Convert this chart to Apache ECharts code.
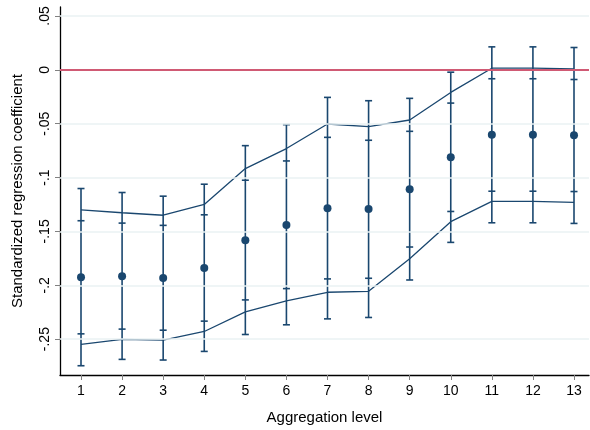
<!DOCTYPE html>
<html>
<head>
<meta charset="utf-8">
<script src="https://cdn.jsdelivr.net/npm/echarts@6/dist/echarts.min.js"></script>
<style>
  html, body { margin: 0; padding: 0; background: #ffffff; }
  #chart { width: 590px; height: 430px; }
</style>
</head>
<body>
<div id="chart"></div>
<script>
// Aggregation levels on the x axis
const levels = [1, 2, 3, 4, 5, 6, 7, 8, 9, 10, 11, 12, 13];

// Point estimates of the standardized coefficient
const estimate = [-0.1926, -0.1917, -0.1932, -0.1840, -0.1583, -0.1441, -0.1284,
                  -0.1293, -0.1108, -0.0812, -0.0602, -0.0602, -0.0608];

// Outer confidence interval (wide caps)
const outerLow  = [-0.2747, -0.2688, -0.2694, -0.2614, -0.2457, -0.2367, -0.2312,
                   -0.2299, -0.1951, -0.1602, -0.1420, -0.1420, -0.1426];
const outerHigh = [-0.1102, -0.1139, -0.1173, -0.1062, -0.0704, -0.0509, -0.0256,
                   -0.0287, -0.0265, -0.0022, 0.0213, 0.0213, 0.0207];

// Inner confidence interval (second set of caps)
const innerLow  = [-0.2451, -0.2407, -0.2417, -0.2333, -0.2136, -0.2031, -0.1941,
                   -0.1935, -0.1645, -0.1315, -0.1127, -0.1127, -0.1130];
const innerHigh = [-0.1401, -0.1423, -0.1444, -0.1346, -0.1025, -0.0846, -0.0627,
                   -0.0654, -0.0571, -0.0309, -0.0083, -0.0083, -0.0090];

// Upper and lower band lines
const bandUpper = [-0.1300, -0.1327, -0.1350, -0.1250, -0.0917, -0.0731, -0.0503,
                   -0.0528, -0.0466, -0.0210, 0.0015, 0.0015, 0.0009];
const bandLower = [-0.2549, -0.2503, -0.2509, -0.2429, -0.2247, -0.2145, -0.2065,
                   -0.2056, -0.1753, -0.1410, -0.1222, -0.1222, -0.1231];

// Y tick values and their printed labels
const yTickValues = [-0.25, -0.2, -0.15, -0.1, -0.05, 0, 0.05];
const yTickLabels = ['-.25', '-.2', '-.15', '-.1', '-.05', '0', '.05'];

const NAVY = '#1a476f';
const RED = '#d05a74';
const GRID = '#eaf2f3';
const FONT = 'Liberation Sans, Arial, sans-serif';

const pairs = (ys) => levels.map((x, i) => [x, ys[i]]);
const intervals = levels.map((x, i) => [x, outerLow[i], outerHigh[i], innerLow[i], innerHigh[i]]);

function yLabel(v) {
  for (let i = 0; i < yTickValues.length; i++) {
    if (Math.abs(yTickValues[i] - v) < 1e-6) return yTickLabels[i];
  }
  return '';
}

const chart = echarts.init(document.getElementById('chart'), null, { renderer: 'canvas' });

chart.setOption({
  animation: false,
  backgroundColor: '#ffffff',
  grid: { left: 60, right: 1, top: 7, bottom: 54, containLabel: false },
  xAxis: {
    type: 'value',
    min: 0.4888,
    max: 13.365,
    name: 'Aggregation level',
    nameLocation: 'middle',
    nameGap: 35,
    nameTextStyle: { fontFamily: FONT, fontSize: 15, color: '#000' },
    axisLine: { onZero: false, lineStyle: { color: '#000', width: 1.3 } },
    axisTick: { customValues: levels, length: 5, lineStyle: { color: '#808080', width: 1 } },
    axisLabel: { customValues: levels, margin: 9, fontFamily: FONT, fontSize: 14, color: '#000' },
    splitLine: { show: false }
  },
  yAxis: {
    type: 'value',
    min: -0.2833,
    max: 0.0583,
    name: 'Standardized regression coefficient',
    nameLocation: 'middle',
    nameGap: 35,
    nameRotate: 90,
    nameTextStyle: { fontFamily: FONT, fontSize: 15, color: '#000' },
    axisLine: { onZero: false, lineStyle: { color: '#000', width: 1.3 } },
    axisTick: { customValues: yTickValues, length: 5, lineStyle: { color: '#808080', width: 1 } },
    axisLabel: {
      customValues: yTickValues, rotate: 90, margin: 8,
      fontFamily: FONT, fontSize: 14, color: '#000',
      formatter: yLabel
    },
    splitLine: { show: false }
  },
  series: [
    {
      // horizontal grid lines and the zero reference line
      type: 'line',
      data: [],
      silent: true,
      z: 1,
      markLine: {
        silent: true,
        symbol: 'none',
        label: { show: false },
        data: yTickValues.filter(v => v !== 0).map(v => ({ yAxis: v, lineStyle: { color: GRID, width: 1.5, type: 'solid' } }))
          .concat([{ yAxis: 0, lineStyle: { color: RED, width: 2, type: 'solid' } }])
      }
    },
    {
      type: 'custom',
      z: 3,
      data: intervals,
      renderItem: function (params, api) {
        const x = api.value(0);
        const pOL = api.coord([x, api.value(1)]);
        const pOH = api.coord([x, api.value(2)]);
        const pIL = api.coord([x, api.value(3)]);
        const pIH = api.coord([x, api.value(4)]);
        const style = { stroke: NAVY, lineWidth: 1.6 };
        const w = 3.5;
        const cap = (p) => ({ type: 'line', shape: { x1: p[0] - w, y1: p[1], x2: p[0] + w, y2: p[1] }, style: style });
        return {
          type: 'group',
          children: [
            { type: 'line', shape: { x1: pOL[0], y1: pOL[1], x2: pOH[0], y2: pOH[1] }, style: style },
            cap(pOL), cap(pOH), cap(pIL), cap(pIH)
          ]
        };
      }
    },
    {
      type: 'line', z: 3, data: pairs(bandUpper), symbol: 'none',
      lineStyle: { color: NAVY, width: 1.3 }
    },
    {
      type: 'line', z: 3, data: pairs(bandLower), symbol: 'none',
      lineStyle: { color: NAVY, width: 1.3 }
    },
    {
      type: 'scatter', z: 4, data: pairs(estimate), symbol: 'circle', symbolSize: 8,
      itemStyle: { color: NAVY, opacity: 1 }
    }
  ]
});
</script>
</body>
</html>
